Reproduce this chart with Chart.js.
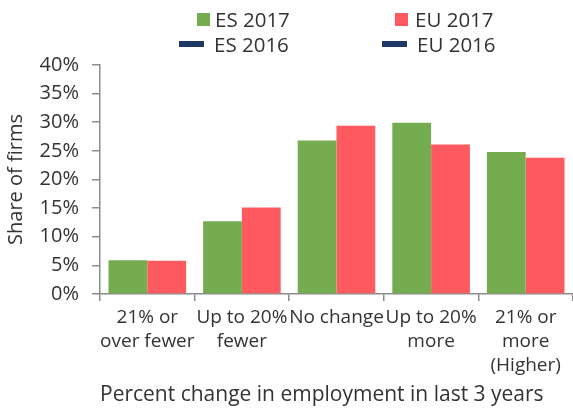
<!DOCTYPE html>
<html>
<head>
<meta charset="utf-8">
<script src="https://cdn.jsdelivr.net/npm/chart.js@4.4.0/dist/chart.umd.min.js"></script>
<style>
  html, body { margin: 0; padding: 0; background: #fff; }
  #wrap { position: relative; width: 573px; height: 411px; }
  #legend { position: absolute; left: 0; top: 0; width: 573px; height: 60px;
            font-family: "Open Sans", sans-serif; font-size: 20.5px; color: #333; }
  .item { position: absolute; height: 24px; line-height: 24px; display: flex; align-items: center; white-space: nowrap; }
  .sq { width: 13px; height: 13px; }
  .ln { width: 25px; height: 6px; }
</style>
</head>
<body>
<div id="wrap">
  <canvas id="chart" width="573" height="411"></canvas>
  <div id="legend">
    <div class="item" id="lg0" style="left:197px;top:7px"><span class="sq"></span><span style="margin-left:5px"></span></div>
    <div class="item" id="lg1" style="left:395px;top:7px"><span class="sq"></span><span style="margin-left:7px"></span></div>
    <div class="item" id="lg2" style="left:179px;top:32px"><span class="ln"></span><span style="margin-left:10px"></span></div>
    <div class="item" id="lg3" style="left:382px;top:32px"><span class="ln"></span><span style="margin-left:10px"></span></div>
  </div>
</div>
<script>
// Categories and series
const categories = [
  ['21% or', 'over fewer'],
  ['Up to 20%', 'fewer'],
  ['No change'],
  ['Up to 20%', 'more'],
  ['21% or', 'more', '(Higher)']
];
const es2017 = [5.9, 12.7, 26.8, 29.9, 24.8];
const eu2017 = [5.8, 15.1, 29.4, 26.1, 23.8];
// 2016 series have no visible marks in the picture
const es2016 = [null, null, null, null, null];
const eu2016 = [null, null, null, null, null];
const seriesNames = ['ES 2017', 'EU 2017', 'ES 2016', 'EU 2016'];
const seriesColors = ['#76ac50', '#ff5a5f', '#1f3864', '#1f3864'];

const font = '"Open Sans", sans-serif';
const txt = '#333333';
const axisGray = '#8c8c8c';

// fill the html legend
seriesNames.forEach((name, i) => {
  const el = document.getElementById('lg' + i);
  el.children[0].style.background = seriesColors[i];
  el.children[1].textContent = name;
});

const ctx = document.getElementById('chart').getContext('2d');
const chart = new Chart(ctx, {
  type: 'bar',
  data: {
    labels: categories,
    datasets: [
      { label: seriesNames[0], data: es2017, backgroundColor: seriesColors[0], categoryPercentage: 0.82, barPercentage: 1.0 },
      { label: seriesNames[1], data: eu2017, backgroundColor: seriesColors[1], categoryPercentage: 0.82, barPercentage: 1.0 },
      { type: 'line', label: seriesNames[2], data: es2016, borderColor: seriesColors[2], pointRadius: 0 },
      { type: 'line', label: seriesNames[3], data: eu2016, borderColor: seriesColors[3], pointRadius: 0 }
    ]
  },
  options: {
    responsive: false,
    animation: false,
    layout: { padding: { top: 65, right: 0, bottom: 3, left: 0 } },
    plugins: {
      legend: { display: false },
      tooltip: { enabled: false }
    },
    scales: {
      x: {
        offset: true,
        grid: { display: true, offset: true, drawOnChartArea: false, drawTicks: true, tickLength: 7, color: axisGray, lineWidth: 1.5 },
        border: { display: true, color: axisGray, width: 1.5 },
        ticks: { color: txt, font: { family: font, size: 19, lineHeight: 1.26 }, padding: 5, maxRotation: 0, autoSkip: false },
        title: { display: true, align: 'start', text: 'Percent change in employment in last 3 years', color: txt, font: { family: font, size: 21 }, padding: { top: 0, bottom: 0 } }
      },
      y: {
        min: 0,
        max: 40,
        afterFit: (scale) => { scale.width = 100; },
        grid: { display: true, drawOnChartArea: false, drawTicks: true, tickLength: 8, color: axisGray, lineWidth: 1.5 },
        border: { display: true, color: axisGray, width: 1.5 },
        ticks: { stepSize: 5, color: txt, font: { family: font, size: 20 }, padding: 13, callback: v => v + '%' },
        title: { display: true, text: 'Share of firms', color: txt, font: { family: font, size: 20 }, padding: { top: 4, bottom: 0 } }
      }
    }
  }
});
</script>
</body>
</html>
